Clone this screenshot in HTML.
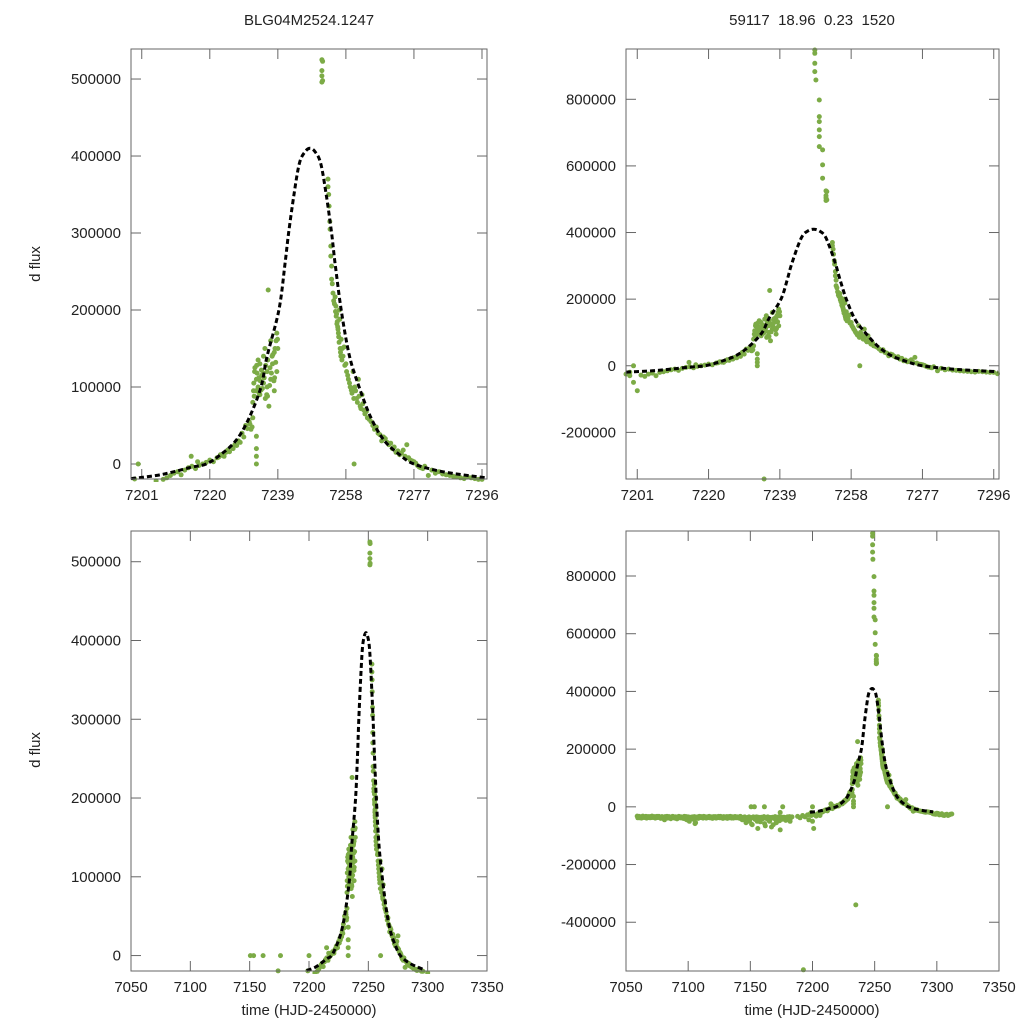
<!DOCTYPE html>
<html><head><meta charset="utf-8"><style>
html,body{margin:0;padding:0;background:#fff;}
svg{display:block;font-family:"Liberation Sans",sans-serif;}
</style></head><body>
<svg id="chart" width="1024" height="1024" viewBox="0 0 1024 1024">
<text x="309" y="25" font-size="15" text-anchor="middle" fill="#222">BLG04M2524.1247</text>
<text x="812" y="25" font-size="15" text-anchor="middle" fill="#222" xml:space="preserve">59117  18.96  0.23  1520</text>
<text transform="translate(40,264) rotate(-90)" font-size="15" text-anchor="middle" fill="#222">d flux</text>
<text transform="translate(40,750) rotate(-90)" font-size="15" text-anchor="middle" fill="#222">d flux</text>
<text x="309" y="1015" font-size="15" text-anchor="middle" fill="#222">time (HJD-2450000)</text>
<text x="812" y="1015" font-size="15" text-anchor="middle" fill="#222">time (HJD-2450000)</text>
</svg>
<script>
// ---- data (flux in thousands) ----
const baseStart = 7059;
const baseFlux = [-32,-36,-38,-35,-37,-34,-36,-33,-38,-35,-34,-37,-32,-36,-34,-38,-33,-36,-35,-40,-34,-37,-45,-36,-33,-38,-35,-41,-36,-34,-39,-35,-42,-37,-34,-38,-36,-40,-33,-37,-45,-35,-50,-38,-36,-42,-34,-55,-38,-40,
-33,-37,-36,-39,-34,-35,-38,-36,-33,-37,-35,-39,-36,-34,-38,-35,-37,-33,-36,-40,-35,-38,-34,-37,-36,-33,-39,-35,-37,-34,-36,-38,-35,-33,-37,-42,-36,-45,-38,-50,-35,-40,-60,-36,-38,-44,-35,-75,-37,-52,
-36,-41,-34,-66,-38,-35,-48,-37,-70,-36,-40,-34,-55,-38,-35,-80,-37,-43,-36,-39,-45,-35,-38,-50,-36];
const baseStart2 = 7059.5;
const baseFlux2 = [-38,-33,-35,-39,-32,-37,-35,-39,-34,-36,-38,-33,-37,-35,-39,-34,-37,-33,-38,-35,-36,-42,-34,-37,-39,-34,-36,-38,-33,-37,-35,-40,-36,-33,-38,-35,-39,-36,-42,-34,-38,-48,-36,-40,-35,-44,-58,-37,-35,-39,
-36,-34,-38,-33,-37,-39,-35,-34,-38,-36,-40,-34,-37,-39,-35,-33,-38,-36,-39,-34,-37,-35,-40,-34,-38,-36,-35,-39,-34,-38,-35,-37,-40,-36,-45,-38,-35,-55,-40,-36,-47,-38,-62,-35,-42,-39,-50,-36,-45,-40,
-38,-36,-58,-39,-42,-36,-50,-40,-38,-62,-37,-45,-39,-36,-48,-40,-36,-42,-38,-47,-36,-40,-34,-38,-35];
const extraT = [7150.6,7153.3,7161.3,7176,7174,7188,7190,7192,7192.7,7194,7196,7197,7198,7199,7199,7200,7200,7201,7202,7203,7204,7205,7206,7207,7208,7209,
7210,7211,7212,7213,7214,7214.8,7215,7216,7216.6,7217,7218,7219,7220,7221,7222,7223,7224,7225,7226,7227,7228,7229,7230,7231,7231.5,7232,7233,7233,7233,7233,
7232.2,7232.5,7233,7233.5,7234,7234,7234.5,7235,7235,7235.5,7236,7236,7236.3,7236.5,7237,7237,7237.5,7238,7238,7238.5,7238.7,7238.7,7239,7234.8,
7248.3,7248.3,7248.3,7248.3,7248.6,7249.5,7249.5,7249.5,7249.5,7249.5,7249.5,7250.4,7250.4,7250.4,7251.3,7251.3,7251.3,7251.3,7251.5,7251.5,
7253,7253,7253.2,7253.3,7253.5,7253.6,7253.8,7253.8,7254,7254,7254.2,7255,7255.2,7255.4,7255.6,7255.8,7256,7256.2,7256.4,7256.6,7256.9,7257.5,7258,7258.5,7259,7259.5,7260,7260.3,7260.5,7261,7261.5,7262,7262.5,7263,7264,7265,7266,7267,7268,7269,7270,7271,7272,7273,7274,7275,7276,7277,7278,7279,7280,7281,7282,7284,7286,7288,7290,7292,7294,7296,7298,7300,7302,7304,7306,7308,7310,7312];
const extraF = [0,0,0,0,-19.5,-33,-38,-30,-565,-35,-28,-45,-25,-19.5,-30,-50,0,-75,-28,-32,-25,-22,-30,-20,-18,-15,
-12,-10,-14,-8,-5,10,-3,-6,3,-2,0,2,5,3,8,12,10,18,22,25,30,40,50,55,45,60,0,10,20,36,
95,120,110,100,130,90,115,105,140,85,120,100,226,75,110,160,130,95,145,160,120,170,150,-340,
948,938,908,883,858,798,748,733,708,688,658,648,603,563,525,511,504,496,523,498,
370,360,350,335,315,305,283,270,257,240,234,217,205,195,185,175,165,200,150,140,135,152,130,115,105,96,120,0,100,85,110,75,90,70,60,55,45,40,30,33,25,20,15,12,18,25,5,3,-2,-5,-3,-15,-8,-10,-14,-16,-18,-17,-19,-20,-25,-22,-28,-24,-30,-26,-28,-25];
const clusterT = [7222.5,7223.5,7224.5,7225.5,7226.5,7227.5,7228.5,7229.5,7230.5,7231.2,7231.8,7232,7232.3,7232.6,7232.9,7233.2,7233.5,7233.8,7234.1,7234.4,7234.7,7235.2,7235.6,7235.9,7236.2,7236.7,7237.2,7237.6,7237.9,7238.2,7238.4,7238.9,7232.4,7233.1,7233.7,7234.3,7234.9,7235.4,7236.1,7236.8,7237.4,7238.1,
7254.4,7254.6,7254.8,7255.1,7255.3,7255.5,7255.7,7255.9,7256.1,7256.3,7256.5,7256.7,7257,7257.2,7257.7,7258.2,7258.7,7259.2,7259.7,7260.2,7260.7,7261.2,7261.7,7262.2,7262.7,7263.3,7263.7,7264.5,7265.5,7266.5,7267.5,7268.5,7269.5,7270.5,7271.5,7272.5,7273.5,7274.5,7275.5,7276.5,7277.5,7278.5,7279.5,7283,7285,7287,7289,7291,7293,7295,7297,7299,7301,7303,7305,7307,7309,7311];
const clusterF = [9,11,15,16,20,24,28,35,46,52,48,80,105,125,95,118,135,92,108,122,98,112,128,90,135,102,118,142,108,150,132,162,88,128,112,96,118,150,88,125,140,112,
222,212,208,198,192,182,178,170,158,188,145,162,150,140,128,120,110,100,92,85,95,80,88,72,78,65,68,58,50,48,38,35,28,27,22,17,14,10,8,4,1,-4,-6,-12,-13,-15,-17,-19,-18,-20,-24,-26,-23,-27,-29,-27,-30,-26];
const modelT = [7198,7205,7210,7215,7219,7223,7227.4,7231,7234.3,7236,7239.3,7241,7242,7243.5,7245,7246.5,7248,7249.5,7251,7252.5,7254,7255,7256.7,7259,7261.7,7265,7268.6,7273,7277,7285,7297];
const modelF = [-19,-15,-10,-4,0,12,31,60,100,140,200,260,300,350,390,405,410,405,390,350,300,260,200,140,100,60,31,12,0,-10,-18];
const yTicksA = [0,100000,200000,300000,400000,500000];
const yTicksB = [-200000,0,200000,400000,600000,800000];
const yTicksC = [-400000,-200000,0,200000,400000,600000,800000];
const xTicksZoom = [7201,7220,7239,7258,7277,7296];
const xTicksWide = [7050,7100,7150,7200,7250,7300,7350];

const NS = "http://www.w3.org/2000/svg";
const svg = document.getElementById('chart');
function mk(tag, attrs, parent){const e=document.createElementNS(NS,tag);for(const k in attrs)e.setAttribute(k,attrs[k]);(parent||svg).appendChild(e);return e;}

const ptT = [], ptF = [];
for(let i=0;i<baseFlux.length;i++){ptT.push(baseStart+i);ptF.push(baseFlux[i]*1000);}
for(let i=0;i<baseFlux2.length;i++){ptT.push(baseStart2+i);ptF.push(baseFlux2[i]*1000);}
for(let i=0;i<extraT.length;i++){ptT.push(extraT[i]);ptF.push(extraF[i]*1000);}
for(let i=0;i<clusterT.length;i++){ptT.push(clusterT[i]);ptF.push(clusterF[i]*1000);}

const panels = [
 {id:'top-left', x0:131,x1:487,y0:49,y1:479,t0:7198,t1:7297.4,f0:-19500,f1:539000,yt:yTicksA,xt:xTicksZoom},
 {id:'top-right', x0:626,x1:999,y0:49,y1:479,t0:7198,t1:7297.4,f0:-340000,f1:951000,yt:yTicksB,xt:xTicksZoom},
 {id:'bottom-left', x0:131,x1:487,y0:531,y1:971,t0:7050,t1:7350,f0:-19600,f1:539000,yt:yTicksA,xt:xTicksWide},
 {id:'bottom-right', x0:626,x1:999,y0:531,y1:971,t0:7050,t1:7350,f0:-569000,f1:956000,yt:yTicksC,xt:xTicksWide}
];

panels.forEach((p,pi)=>{
  const sx = t => p.x0 + (t-p.t0)/(p.t1-p.t0)*(p.x1-p.x0);
  const sy = f => p.y1 - (f-p.f0)/(p.f1-p.f0)*(p.y1-p.y0);
  const g = mk('g',{});
  
  
  const cid='clip'+pi;
  const cp = mk('clipPath',{id:cid},g);
  mk('rect',{x:p.x0-3,y:p.y0-3,width:p.x1-p.x0+6,height:p.y1-p.y0+6},cp);
  p.yt.forEach(v=>{
    const y=sy(v);
    const tl=mk('line',{x1:p.x0,x2:p.x0+10,y1:y,y2:y,stroke:'#666','stroke-width':1},g);
    
    
    mk('line',{x1:p.x1,x2:p.x1-10,y1:y,y2:y,stroke:'#666','stroke-width':1},g);
    const tx=mk('text',{x:p.x0-10,y:y+5,'font-size':15,'text-anchor':'end',fill:'#222'},g);
    tx.textContent=String(v);
    
    
  });
  p.xt.forEach(v=>{
    const x=sx(v);
    const tl=mk('line',{x1:x,x2:x,y1:p.y1,y2:p.y1-10,stroke:'#666','stroke-width':1},g);
    
    
    mk('line',{x1:x,x2:x,y1:p.y0,y2:p.y0+10,stroke:'#666','stroke-width':1},g);
    const tx=mk('text',{x:x,y:p.y1+21,'font-size':15,'text-anchor':'middle',fill:'#222'},g);
    tx.textContent=String(v);
    
    
  });
  const pg=mk('g',{'clip-path':'url(#'+cid+')'},g);
  
  
  for(let i=0;i<ptT.length;i++){
    const x=sx(ptT[i]), y=sy(ptF[i]);
    if(x<p.x0-2||x>p.x1+2||y<p.y0-2||y>p.y1+2) continue;
    const c=mk('circle',{cx:x.toFixed(1),cy:y.toFixed(1),r:2.5,fill:'#7cab46'},pg);
    
    
  }
  const P=modelT.map((t,i)=>[sx(t),sy(modelF[i]*1000)]);
  let d='M'+P[0][0].toFixed(1)+','+P[0][1].toFixed(1);
  for(let i=0;i<P.length-1;i++){
    const p0=P[Math.max(0,i-1)],p1=P[i],p2=P[i+1],p3=P[Math.min(P.length-1,i+2)];
    const c1=[p1[0]+(p2[0]-p0[0])/6,p1[1]+(p2[1]-p0[1])/6];
    const c2=[p2[0]-(p3[0]-p1[0])/6,p2[1]-(p3[1]-p1[1])/6];
    d+=' C'+c1.map(v=>v.toFixed(1)).join(',')+' '+c2.map(v=>v.toFixed(1)).join(',')+' '+p2.map(v=>v.toFixed(1)).join(',');
  }
  const mp=mk('path',{d:d,fill:'none',stroke:'#000','stroke-width':3,'stroke-dasharray':'5,3','clip-path':'url(#'+cid+')'},g);
  
  
  const fr=mk('rect',{x:p.x0,y:p.y0,width:p.x1-p.x0,height:p.y1-p.y0,fill:'none',stroke:'#666','stroke-width':1},g);
  
  
});
</script>
</body></html>
